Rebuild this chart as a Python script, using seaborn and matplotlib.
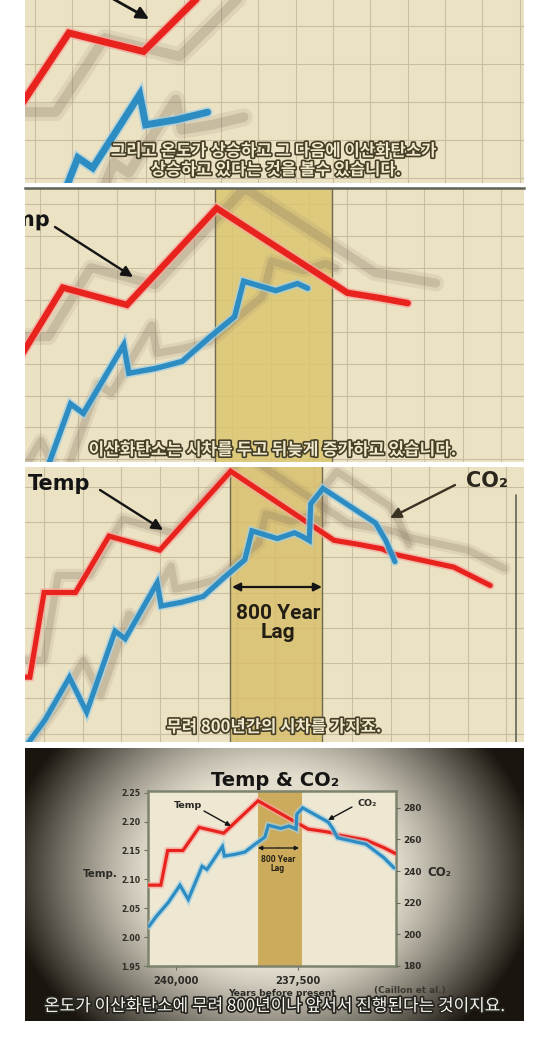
import numpy as np
import pandas as pd
import seaborn as sns
import matplotlib
matplotlib.use('Agg')
import matplotlib.pyplot as plt
import matplotlib.patheffects as pe
from matplotlib.transforms import Affine2D
from matplotlib.ticker import MultipleLocator

sns.set_style('white')

# Caillon et al. record, values
temp_years = [240540, 240300, 240160, 239850, 239520, 239020, 238320, 237300,
              237050, 236830, 236700, 236120, 235760, 235480]
temp_vals = [2.09, 2.09, 2.15, 2.15, 2.19, 2.18, 2.236, 2.187,
             2.184, 2.181, 2.177, 2.168, 2.155, 2.143]

co2_years = [240540, 240400, 240150, 239910, 239740, 239460, 239360, 239045,
             239005, 238800, 238590, 238380, 238180, 238110, 237860, 237690,
             237610, 237545, 237530, 237410, 236890, 236790, 236700, 236410,
             236120, 235760, 235550]
co2_vals = [205, 211, 220, 231, 222, 243, 241, 255.5,
            249.5, 250.5, 252, 257, 261.5, 269, 267, 268.5,
            267.5, 266.5, 276, 280, 271, 266.5, 261, 259,
            257, 248.5, 242]

lag_years = (238330, 237420)

temp_ticks = [1.95, 2.00, 2.05, 2.10, 2.15, 2.20, 2.25]
co2_ticks = [180, 200, 220, 240, 260, 280]
year_ticks = [240000, 237500]

subs = [
    ['그리고 온도가 상승하고 그 다음에 이산화탄소가', '상승하고 있다는 것을 볼수 있습니다.'],
    ['이산화탄소는 시차를 두고 뒤늦게 증가하고 있습니다.'],
    ['무려 800년간의 시차를 가지죠.'],
    ['온도가 이산화탄소에 무려 800년이나 앞서서 진행된다는 것이지요.'],
]

temp_df = pd.DataFrame({'year': temp_years, 'temp': temp_vals})
co2_df = pd.DataFrame({'year': co2_years, 'co2': co2_vals})

W, H = 550, 1045
fig = plt.figure(figsize=(W / 100, H / 100), dpi=100)
fig.patch.set_facecolor('white')

RED = '#e8231e'
BLUE = '#2d8cc2'
SHADOW = '#85745f'
INK = '#141414'
KR = ['Noto Sans CJK KR', 'DejaVu Sans']


def px_axes(x0, y0, x1, y1):
    return fig.add_axes([x0 / W, 1 - y1 / H, (x1 - x0) / W, (y1 - y0) / H])


def fxy(x, y):
    return x / W, 1 - y / H


def to_co2(lim):
    # right axis of the original chart, tied to the temp axis
    return tuple(180.6 + (t - 1.952) * 365.7 for t in lim)


def arrow(ax, tail, head, lw=1.6, color=INK, style='-|>', ms=14):
    ax.annotate('', xy=fxy(*head), xytext=fxy(*tail), xycoords='figure fraction',
                arrowprops=dict(arrowstyle=style, color=color, lw=lw,
                                mutation_scale=ms, shrinkA=0, shrinkB=0), zorder=6)


def subtitle(x, y, s, size, weight='bold', fill='#f0e8ca', edge='#463f27'):
    fig.text(*fxy(x, y), s, ha='center', va='center', fontsize=size,
             fontweight=weight, family=KR, color=fill, zorder=20,
             path_effects=[pe.withStroke(linewidth=2.4, foreground=edge)])


def draw_series(ax, red_to, co2_to, lws, shadow=None):
    co2_trans = Affine2D().scale(1, 1 / 365.7).translate(0, 1.952 - 180.6 / 365.7) + ax.transData
    series = [
        (temp_df[temp_df.year >= red_to], 'temp', ax.transData, RED, '#f6a89d', lws[0], 3),
        (co2_df[co2_df.year >= co2_to], 'co2', co2_trans, BLUE, '#a4d0e2', lws[1], 4),
    ]
    for d, col, trans, color, glow, lw, z in series:
        if shadow:
            off = trans + Affine2D().translate(*shadow)
            for k, a in ((2.6, 0.12), (1.4, 0.25)):
                sns.lineplot(data=d, x='year', y=col, ax=ax, sort=False, estimator=None,
                             errorbar=None, color=SHADOW, lw=lw * k, alpha=a,
                             transform=off, zorder=2, solid_capstyle='round',
                             solid_joinstyle='round')
        sns.lineplot(data=d, x='year', y=col, ax=ax, sort=False, estimator=None,
                     errorbar=None, color=color, lw=lw, transform=trans, zorder=z,
                     solid_joinstyle='miter',
                     path_effects=[pe.Stroke(linewidth=lw + 2.4, foreground=glow, alpha=0.7),
                                   pe.Normal()])
    ax.set(xlabel='', ylabel='')


views = [
    dict(rect=(25, 0, 524, 183), xlim=(239814, 236470), ylim=(2.109, 2.2078),
         red_to=238320, co2_to=238550, grid=(250, 0.0205), lws=(5.0, 5.0),
         shadow=(36, -5), band=None),
    dict(rect=(25, 188, 524, 462), xlim=(239815, 235923), ylim=(2.089, 2.2477),
         red_to=236830, co2_to=237600, grid=(300, 0.0185), lws=(4.6, 3.9),
         shadow=(28, 20), band='#dcc66e'),
    dict(rect=(25, 467, 524, 742), xlim=(240348, 235427), ylim=(2.044, 2.239),
         red_to=235760, co2_to=236700, grid=(380, 0.025), lws=(3.7, 3.7),
         shadow=(14, 17), band='#d8bf6b'),
]

axes = []
for v in views:
    ax = px_axes(*v['rect'])
    ax.set_facecolor('#ebe1c3')
    draw_series(ax, v['red_to'], v['co2_to'], v['lws'], v['shadow'])
    ax.set_xlim(*v['xlim'])
    ax.set_ylim(*v['ylim'])
    ax.xaxis.set_major_locator(MultipleLocator(v['grid'][0]))
    ax.yaxis.set_major_locator(MultipleLocator(v['grid'][1]))
    ax.grid(True, color='#c9bd9f', lw=0.8)
    ax.set_axisbelow(True)
    ax.tick_params(length=0, labelbottom=False, labelleft=False)
    for s in ax.spines.values():
        s.set_visible(False)
    if v['band']:
        ax.axvspan(*lag_years, color=v['band'], alpha=0.82, lw=0, zorder=1)
        for yr in lag_years:
            ax.axvline(yr, color='#6e6a52', lw=1.0, zorder=1.5)
    axes.append(ax)

ax1, ax2, ax3 = axes

# panel 1
arrow(ax1, (108, -4), (149, 19), lw=2.0, ms=18)
subtitle(274, 151, subs[0][0], 12.0)
subtitle(276, 170, subs[0][1], 12.0)

# panel 2: the label sits mostly off the left edge, only "mp" shows
ax2.spines['top'].set_visible(True)
ax2.spines['top'].set_color('#5f6256')
ax2.spines['top'].set_linewidth(1.8)
ax2.text(*fxy(50, 226), 'Temp', transform=fig.transFigure, ha='right',
         va='baseline', fontsize=15, fontweight='bold', color=INK, zorder=6,
         clip_on=True, path_effects=[pe.Normal()])
arrow(ax2, (55, 227), (133, 277), lw=1.7, ms=16)
subtitle(273, 450, subs[1][0], 12.2)

# panel 3
ax3.axvline(235510, ymin=0, ymax=0.9, color='#6c6e60', lw=1.3, zorder=1.5)
ax3.text(*fxy(28, 490), 'Temp', transform=fig.transFigure, ha='left',
         va='baseline', fontsize=15, fontweight='bold', color=INK, zorder=6)
arrow(ax3, (100, 490), (163, 530), lw=1.7, ms=16)
ax3.text(*fxy(487, 487), 'CO₂', transform=fig.transFigure, ha='center',
         va='baseline', fontsize=15, fontweight='bold', color='#2a261c', zorder=6)
arrow(ax3, (455, 485), (390, 518), lw=1.7, color='#3a3222', ms=16)
arrow(ax3, (278, 587), (232, 587), lw=1.6, ms=12)
arrow(ax3, (278, 587), (322, 587), lw=1.6, ms=12)
ax3.text(*fxy(278, 623), '800 Year\nLag', transform=fig.transFigure, ha='center',
         va='center', fontsize=15, fontweight='bold', family=['Roboto', 'DejaVu Sans'],
         color='#221e14', linespacing=1.0, zorder=6)
subtitle(274, 727, subs[2][0], 12.0)

# panel 4: the whole chart on a dark vignetted frame
frame = px_axes(25, 748, 524, 1021)
gx, gy = np.meshgrid(np.linspace(25, 524, 300), np.linspace(748, 1021, 180))
r = np.sqrt(((gx - 272) / 268) ** 2 + ((gy - 872) / 215) ** 2)
s = np.clip((r - 0.45) / 0.55, 0, 1) ** 1.2
light = np.array([226, 221, 205]) / 255
dark = np.array([26, 22, 15]) / 255
vign = light[None, None, :] * (1 - s[..., None]) + dark[None, None, :] * s[..., None]
frame.imshow(vign, extent=[0, 1, 0, 1], aspect='auto', interpolation='bilinear')
frame.axis('off')

ax4 = px_axes(148, 791, 396, 966)
ax4.set_facecolor('#eee8d3')
draw_series(ax4, 0, 0, (2.3, 2.3))
ax4.axvspan(*lag_years, color='#c9a652', alpha=0.92, lw=0, zorder=1)
ax4.set_xlim(240561, 235510)
ax4.set_ylim(1.95, 2.253)
ax4.set_yticks(temp_ticks)
ax4.set_yticklabels([f'{v:.2f}' for v in temp_ticks], fontsize=5.6,
                    fontweight='bold', color='#2d2b25')
ax4.set_xticks(year_ticks)
ax4.set_xticklabels([f'{v:,}' for v in year_ticks], fontsize=7.2,
                    fontweight='bold', color='#2d2b25')
ax4.tick_params(axis='y', left=True, length=3, width=0.8, color='#6b6b5e', pad=2.5)
ax4.tick_params(axis='x', bottom=True, length=3, width=0.8, color='#6b6b5e', pad=4.5)
for sp in ax4.spines.values():
    sp.set_color('#7d836c')
    sp.set_linewidth(1.8)

ax4r = ax4.twinx()
ax4r.set_ylim(*to_co2(ax4.get_ylim()))
ax4r.set_yticks(co2_ticks)
ax4r.set_yticklabels([str(v) for v in co2_ticks], fontsize=6.4,
                     fontweight='bold', color='#2d2b25')
ax4r.tick_params(axis='y', right=True, length=3, width=0.8, color='#6b6b5e', pad=2)
for sp in ax4r.spines.values():
    sp.set_visible(False)

fig.text(*fxy(275, 780), 'Temp & CO₂', ha='center', va='center', fontsize=14,
         fontweight='bold', color='#161513')
fig.text(*fxy(100, 874), 'Temp.', ha='center', va='center', fontsize=7.4,
         fontweight='bold', color='#2b2a26')
fig.text(*fxy(439, 872), 'CO₂', ha='center', va='center', fontsize=8.5,
         fontweight='bold', color='#2b2a26')
# partly hidden behind the subtitle, as in the video frame
fig.text(*fxy(282, 994), 'Years before present', ha='center', va='center',
         fontsize=6.6, fontweight='bold', color='#2b2a26')
fig.text(*fxy(410, 990), '(Caillon et al.)', ha='center', va='center',
         fontsize=6.4, fontweight='bold', color='#3a3830')

ax4.text(*fxy(188, 806), 'Temp', transform=fig.transFigure, ha='center',
         va='center', fontsize=6.8, fontweight='bold', color='#2a2824', zorder=6)
arrow(ax4, (204, 811), (231, 826), lw=1.0, ms=7)
ax4.text(*fxy(367, 804), 'CO₂', transform=fig.transFigure, ha='center',
         va='center', fontsize=6.8, fontweight='bold', color='#2a2824', zorder=6)
arrow(ax4, (352, 807), (328, 820), lw=1.0, ms=7)
arrow(ax4, (278, 848), (258, 848), lw=0.9, ms=6)
arrow(ax4, (278, 848), (299, 848), lw=0.9, ms=6)
ax4.text(*fxy(278, 864), '800 Year\nLag', transform=fig.transFigure, ha='center',
         va='center', fontsize=6.2, fontweight='bold', family=['Roboto', 'DejaVu Sans'],
         color='#2a2418', linespacing=0.95, zorder=6)

subtitle(275, 1006, subs[3][0], 12.2, weight='normal', fill='#f6f5ee', edge='#26241f')

fig.savefig('out.png', dpi=100, facecolor='white')
